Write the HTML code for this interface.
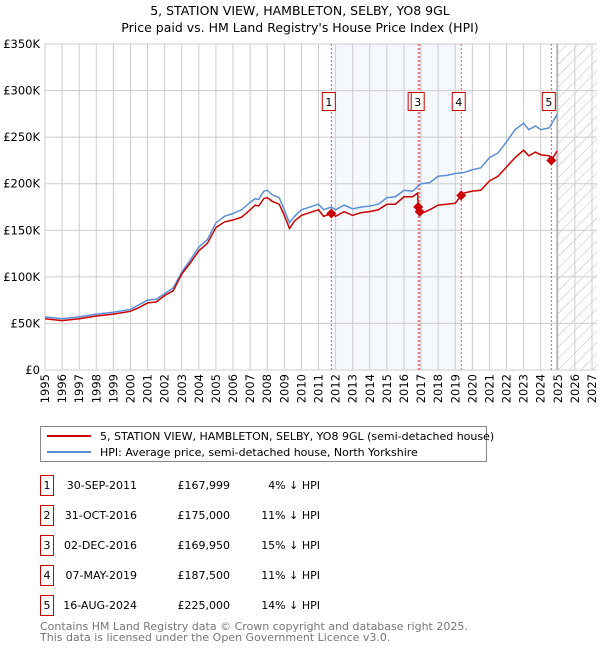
<!DOCTYPE html>
<html><head><meta charset="utf-8"><style>
body{margin:0;background:#fff;font-family:"Liberation Sans","DejaVu Sans",sans-serif;}
svg text{font-family:"DejaVu Sans","Liberation Sans",sans-serif;}
</style></head><body>
<svg id="c" width="600" height="650" xmlns="http://www.w3.org/2000/svg">
<defs><pattern id="hatch" width="8" height="8" patternUnits="userSpaceOnUse" patternTransform="rotate(45)"><line x1="0" y1="0" x2="0" y2="8" stroke="#bbb" stroke-width="1"/></pattern></defs>
<text x="300" y="15" text-anchor="middle" font-size="12.5">5, STATION VIEW, HAMBLETON, SELBY, YO8 9GL</text>
<text x="300" y="32" text-anchor="middle" font-size="12.5">Price paid vs. HM Land Registry's House Price Index (HPI)</text>
<g id="plot"></g>
<g>
<rect x="40.5" y="426.5" width="446" height="35" fill="#fff" stroke="#888"/>
<line x1="47" y1="436" x2="91" y2="436" stroke="#cc0000" stroke-width="2"/>
<text x="100" y="440" font-size="11">5, STATION VIEW, HAMBLETON, SELBY, YO8 9GL (semi-detached house)</text>
<line x1="47" y1="452" x2="91" y2="452" stroke="#5b8fd6" stroke-width="2"/>
<text x="100" y="456" font-size="11">HPI: Average price, semi-detached house, North Yorkshire</text>
</g>
<g id="table"></g>
<text x="40" y="630" font-size="11" fill="#777">Contains HM Land Registry data © Crown copyright and database right 2025.</text>
<text x="40" y="641" font-size="11" fill="#777">This data is licensed under the Open Government Licence v3.0.</text>
</svg>
<script>
const yearTicks=[1995,1996,1997,1998,1999,2000,2001,2002,2003,2004,2005,2006,2007,2008,2009,2010,2011,2012,2013,2014,2015,2016,2017,2018,2019,2020,2021,2022,2023,2024,2025,2026,2027];
const priceTicks=[0,50000,100000,150000,200000,250000,300000,350000];
const priceTickLabels=["£0","£50K","£100K","£150K","£200K","£250K","£300K","£350K"];
const hpiT=[1995,1996,1997,1998,1999,2000,2000.5,2001,2001.5,2002,2002.5,2003,2003.5,2004,2004.5,2005,2005.5,2006,2006.5,2007,2007.3,2007.5,2007.8,2008,2008.3,2008.7,2009,2009.3,2009.6,2010,2010.5,2011,2011.3,2011.75,2012,2012.5,2013,2013.5,2014,2014.5,2015,2015.5,2016,2016.5,2017,2017.5,2018,2018.5,2019,2019.5,2020,2020.5,2021,2021.5,2022,2022.5,2023,2023.3,2023.7,2024,2024.5,2024.95];
const hpiV=[57,55,57,60,62,65,70,75,76,82,88,105,118,132,140,158,165,168,172,180,184,183,192,193,188,185,172,158,165,172,175,178,172,175,172,177,173,175,176,178,185,186,193,192,200,201,208,209,211,212,215,217,228,233,245,258,265,258,262,258,260,274];
const ppT=[1995,1996,1997,1998,1999,2000,2000.5,2001,2001.5,2002,2002.5,2003,2003.5,2004,2004.5,2005,2005.5,2006,2006.5,2007,2007.3,2007.5,2007.8,2008,2008.3,2008.7,2009,2009.3,2009.6,2010,2010.5,2011,2011.3,2011.75,2012,2012.5,2013,2013.5,2014,2014.5,2015,2015.5,2016,2016.5,2016.8,2016.83,2016.92,2017,2017.5,2018,2018.5,2019,2019.35,2019.5,2020,2020.5,2021,2021.5,2022,2022.5,2023,2023.3,2023.7,2024,2024.5,2024.62,2024.95];
const ppV=[55,53,55,58,60,63,67,72,73,80,85,103,115,128,136,153,159,161,164,172,177,176,184,185,181,178,166,152,160,166,169,172,165,168,165,170,166,169,170,172,178,178,186,186,190,175,170,168,172,177,178,179,187.5,190,192,193,203,208,218,228,236,230,234,231,230,225,235];
const saleLabels=["1","2","3","4","5"];
const saleT=[2011.75,2016.83,2016.92,2019.35,2024.62];
const saleV=[167999,175000,169950,187500,225000];
const saleDates=["30-SEP-2011","31-OCT-2016","02-DEC-2016","07-MAY-2019","16-AUG-2024"];
const salePrices=["£167,999","£175,000","£169,950","£187,500","£225,000"];
const saleHpi=["4% ↓ HPI","11% ↓ HPI","15% ↓ HPI","11% ↓ HPI","14% ↓ HPI"];
const NS="http://www.w3.org/2000/svg";
const L=45,R=592,T=44,B=370;
const x=t=>L+(t-1995)/(2027-1995)*(R-L);
const y=v=>B-v/350000*(B-T);
function mk(tag,attrs,parent){const e=document.createElementNS(NS,tag);for(const k in attrs)e.setAttribute(k,attrs[k]);parent.appendChild(e);return e;}
const g=document.getElementById('plot');
let e;
e=mk('rect',{x:x(2011.75),y:T,width:x(2019.35)-x(2011.75),height:B-T,fill:'#eef3fc',opacity:0.6},g);


e=mk('rect',{x:x(2025),y:T,width:R+5-x(2025),height:B-T,fill:'url(#hatch)'},g);


yearTicks.forEach(t=>{
 e=mk('line',{x1:x(t),y1:T,x2:x(t),y2:B,stroke:'#ccc','stroke-width':1},g);
 
 
 e=mk('text',{x:0,y:0,'font-size':11.5,'text-anchor':'end',transform:`translate(${x(t)+4},${B+4}) rotate(-90)`},g);
 e.textContent=t;
 
 
});
priceTicks.forEach((v,i)=>{
 e=mk('line',{x1:L,y1:y(v),x2:R+5,y2:y(v),stroke:'#ccc','stroke-width':1},g);
 
 
 e=mk('text',{x:L-5,y:y(v)+4,'font-size':11.5,'text-anchor':'end'},g);
 e.textContent=priceTickLabels[i];
 
 
});
e=mk('line',{x1:x(2024.95),y1:T,x2:x(2024.95),y2:B,stroke:'#999','stroke-width':1},g);


saleT.forEach((t,i)=>{
 e=mk('line',{x1:x(t),y1:T,x2:x(t),y2:B,stroke:'#e55','stroke-width':1,'stroke-dasharray':'2,2'},g);
 
 
});
e=mk('polyline',{points:hpiT.map((t,i)=>x(t)+','+y(hpiV[i]*1000)).join(' '),fill:'none',stroke:'#5b8fd6','stroke-width':1.5},g);


e=mk('polyline',{points:ppT.map((t,i)=>x(t)+','+y(ppV[i]*1000)).join(' '),fill:'none',stroke:'#cc0000','stroke-width':1.5},g);


saleT.forEach((t,i)=>{
 e=mk('path',{d:`M${x(t)},${y(saleV[i])-5}l5,5l-5,5l-5,-5z`,fill:'#cc0000'},g);
 
 
 const bx=x(t)-(i===1?10:i===2?8.5:9);
 e=mk('rect',{x:bx,y:92.5,width:13,height:18,fill:'#fff',stroke:'#cc0000','stroke-width':1},g);
 
 
 e=mk('text',{x:bx+6.5,y:106,'font-size':11,'text-anchor':'middle'},g);
 e.textContent=saleLabels[i];
 
 
});
const tb=document.getElementById('table');
saleT.forEach((t,i)=>{
 const yy=484+i*30;
 e=mk('rect',{x:40.5,y:yy-8.5,width:13,height:20,fill:'#fff',stroke:'#cc0000'},tb);
 
 
 const cells=[[47,'middle',saleLabels[i]],[137,'end',saleDates[i]],[230,'end',salePrices[i]],[320,'end',saleHpi[i]]];
 cells.forEach(c=>{
  e=mk('text',{x:c[0],y:yy+5,'font-size':11,'text-anchor':c[1]},tb);
  e.textContent=c[2];
  
  
 });
});
</script>
</body></html>
